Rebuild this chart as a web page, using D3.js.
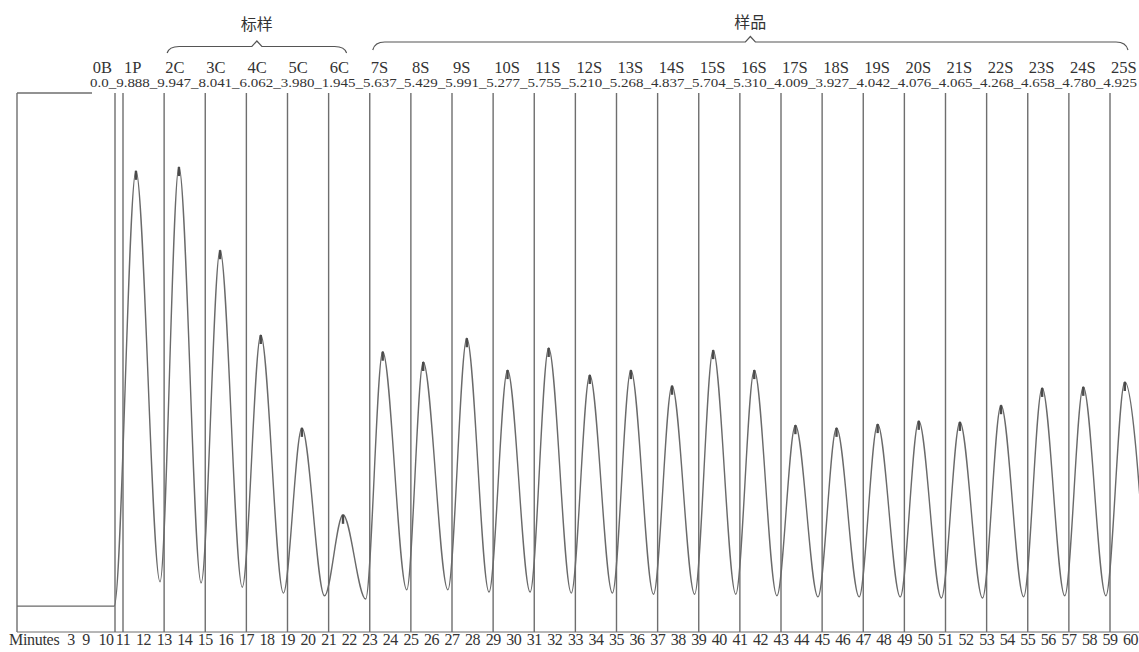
<!DOCTYPE html>
<html>
<head>
<meta charset="utf-8">
<script src="https://cdn.jsdelivr.net/npm/d3@7"></script>
<style>
  html, body { margin: 0; padding: 0; background: #fff; }
  svg { display: block; }
</style>
</head>
<body>
<div id="chart"></div>
<script>
// Sample names and reported concentrations (top two rows)
const sampleNames = ["0B", "1P", "2C", "3C", "4C", "5C", "6C", "7S", "8S", "9S", "10S", "11S", "12S",
  "13S", "14S", "15S", "16S", "17S", "18S", "19S", "20S", "21S", "22S", "23S", "24S", "25S"];
const sampleConc = ["0.0", "9.888", "9.947", "8.041", "6.062", "3.980", "1.945", "5.637", "5.429", "5.991",
  "5.277", "5.755", "5.210", "5.268", "4.837", "5.704", "5.310", "4.009", "3.927", "4.042", "4.076",
  "4.065", "4.268", "4.658", "4.780", "4.925"];
// Injection start (minutes) of each sample; 0B is the blank region
const sampleStart = [0, 11, 13, 15, 17, 19, 21, 23, 25, 27, 29, 31, 33, 35, 37, 39, 41, 43, 45, 47, 49,
  51, 53, 55, 57, 59];
const blankEnd = 10.6;
const blankLevel = 4.8;

// Peak apex time / height and following valley (signal, arbitrary units 0-100)
const peakTimes = [11.63, 13.72, 15.72, 17.7, 19.7, 21.7, 23.63, 25.6, 27.72, 29.7, 31.7, 33.7, 35.7,
  37.7, 39.7, 41.7, 43.7, 45.7, 47.7, 49.7, 51.7, 53.7, 55.7, 57.7, 59.72];
const peakHeights = [85.4, 86.1, 70.7, 55.0, 37.8, 21.7, 51.9, 50.0, 54.4, 48.5, 52.6, 47.6, 48.5, 45.6,
  52.2, 48.5, 38.3, 37.8, 38.5, 39.1, 38.9, 42.0, 45.2, 45.4, 46.3];
const valleyTimes = [12.8, 14.8, 16.8, 18.8, 20.8, 22.8, 24.8, 26.8, 28.8, 30.8, 32.8, 34.8, 36.8, 38.8,
  40.8, 42.8, 44.8, 46.8, 48.8, 50.8, 52.8, 54.8, 56.8, 58.8, 60.8];
const valleyHeights = [9.3, 9.1, 8.3, 7.2, 6.7, 6.1, 7.8, 7.8, 7.4, 7.4, 7.2, 7.2, 7.0, 7.0, 7.0, 6.7,
  6.5, 6.5, 6.5, 6.3, 6.3, 6.5, 6.7, 6.7, 6.7];

// Minute tick labels on the bottom
const minuteTicks = [3, 9, 10].concat(d3.range(11, 61));

// Bracket groups above the sample names
const groups = [
  {name: "标样", first: "2C", last: "6C"},
  {name: "样品", first: "7S", last: "25S"}
];

const width = 1139, height = 652;
const plotTop = 93, plotBottom = 632;

const svg = d3.select("#chart").append("svg")
  .attr("width", width).attr("height", height);

// broken time axis: compressed blank region, then linear from 11 min
const x = d3.scaleLinear()
  .domain([0, 3, 9, 10, blankEnd, 11, 59])
  .range([17, 71, 86, 106, 115, 123, 1110]);
const y = d3.scaleLinear().domain([0, 100]).range([plotBottom, 92]);

const ink = "#333";
const lineGrey = "#6e6e6e";
const serif = "'Liberation Serif', 'DejaVu Serif', serif";

svg.append("clipPath").attr("id", "clip")
  .append("rect").attr("x", 0).attr("y", 0).attr("width", width).attr("height", height);

// frame bits of the blank region
svg.append("line")
  .attr("x1", x(0)).attr("x2", x(0)).attr("y1", plotTop).attr("y2", plotBottom)
  .attr("stroke", lineGrey).attr("stroke-width", 1.4);
svg.append("line")
  .attr("x1", x(0)).attr("x2", 92).attr("y1", plotTop).attr("y2", plotTop)
  .attr("stroke", lineGrey).attr("stroke-width", 1.4);
svg.append("line")
  .attr("x1", x(0)).attr("x2", width).attr("y1", plotBottom).attr("y2", plotBottom)
  .attr("stroke", lineGrey).attr("stroke-width", 1);

// sample boundary lines
const boundaries = [blankEnd].concat(sampleStart.slice(1));
svg.append("g").selectAll("line")
  .data(boundaries)
  .join("line")
  .attr("x1", d => x(d)).attr("x2", d => x(d))
  .attr("y1", plotTop).attr("y2", plotBottom)
  .attr("stroke", lineGrey).attr("stroke-width", 1.4);

// detector trace
const pts = [[0, blankLevel], [blankEnd - 0.05, blankLevel]];
peakTimes.forEach((t, i) => {
  pts.push([t, peakHeights[i]]);
  pts.push([valleyTimes[i], valleyHeights[i]]);
});
const line = d3.line()
  .x(d => x(d[0])).y(d => y(d[1]))
  .curve(d3.curveMonotoneX);
svg.append("path")
  .attr("clip-path", "url(#clip)")
  .attr("d", line(pts))
  .attr("fill", "none")
  .attr("stroke", "#6a6a6a")
  .attr("stroke-width", 1.4);

// darker spike at each apex
svg.append("g").selectAll("line")
  .data(peakTimes)
  .join("line")
  .attr("x1", d => x(d)).attr("x2", d => x(d))
  .attr("y1", (d, i) => y(peakHeights[i]))
  .attr("y2", (d, i) => y(peakHeights[i]) + 9)
  .attr("stroke", "#4a4a4a").attr("stroke-width", 2.4);

// sample names
svg.append("g").selectAll("text")
  .data(sampleNames)
  .join("text")
  .attr("x", (d, i) => i === 0 ? x(blankEnd) - 3 : x(sampleStart[i]) + 1)
  .attr("y", 73)
  .attr("text-anchor", (d, i) => i === 0 ? "end" : "start")
  .attr("font-family", serif)
  .attr("font-size", 16.5)
  .attr("fill", ink)
  .text(d => d);

// concentrations, printed as one underscore-joined string
svg.append("text")
  .attr("x", 90).attr("y", 87)
  .attr("textLength", 1047).attr("lengthAdjust", "spacingAndGlyphs")
  .attr("font-family", serif)
  .attr("font-size", 13.5)
  .attr("fill", ink)
  .text(sampleConc.join("_"));

// group brackets
groups.forEach((g, gi) => {
  const i0 = sampleNames.indexOf(g.first), i1 = sampleNames.indexOf(g.last);
  const x0 = x(sampleStart[i0]) + 3;
  const x1 = x(sampleStart[i1]) + 18;
  const xm = (x0 + x1) / 2;
  const yEnd = gi === 0 ? 53 : 50;
  const yH = gi === 0 ? 46.5 : 42;
  const yP = yH - 5.5;
  const p = d3.path();
  p.moveTo(x0, yEnd);
  p.quadraticCurveTo(x0 + 2, yH, x0 + 12, yH);
  p.lineTo(xm - 5, yH);
  p.lineTo(xm, yP);
  p.lineTo(xm + 5, yH);
  p.lineTo(x1 - 12, yH);
  p.quadraticCurveTo(x1 - 2, yH, x1, yEnd);
  svg.append("path").attr("d", p.toString())
    .attr("fill", "none").attr("stroke", "#555").attr("stroke-width", 1.2);
  svg.append("text")
    .attr("x", xm).attr("y", gi === 0 ? 30 : 28)
    .attr("text-anchor", "middle")
    .attr("font-family", "'Noto Sans CJK SC', sans-serif")
    .attr("font-size", 16)
    .attr("fill", ink)
    .text(g.name);
});

// bottom minute labels
svg.append("text")
  .attr("x", 9).attr("y", 645)
  .attr("font-family", serif)
  .attr("font-size", 16)
  .attr("letter-spacing", -0.3)
  .attr("fill", ink)
  .text("Minutes");
svg.append("g").selectAll("text")
  .data(minuteTicks)
  .join("text")
  .attr("x", d => x(d))
  .attr("y", 645)
  .attr("text-anchor", "middle")
  .attr("font-family", serif)
  .attr("font-size", 16)
  .attr("letter-spacing", -0.5)
  .attr("fill", ink)
  .text(d => d);
</script>
</body>
</html>
